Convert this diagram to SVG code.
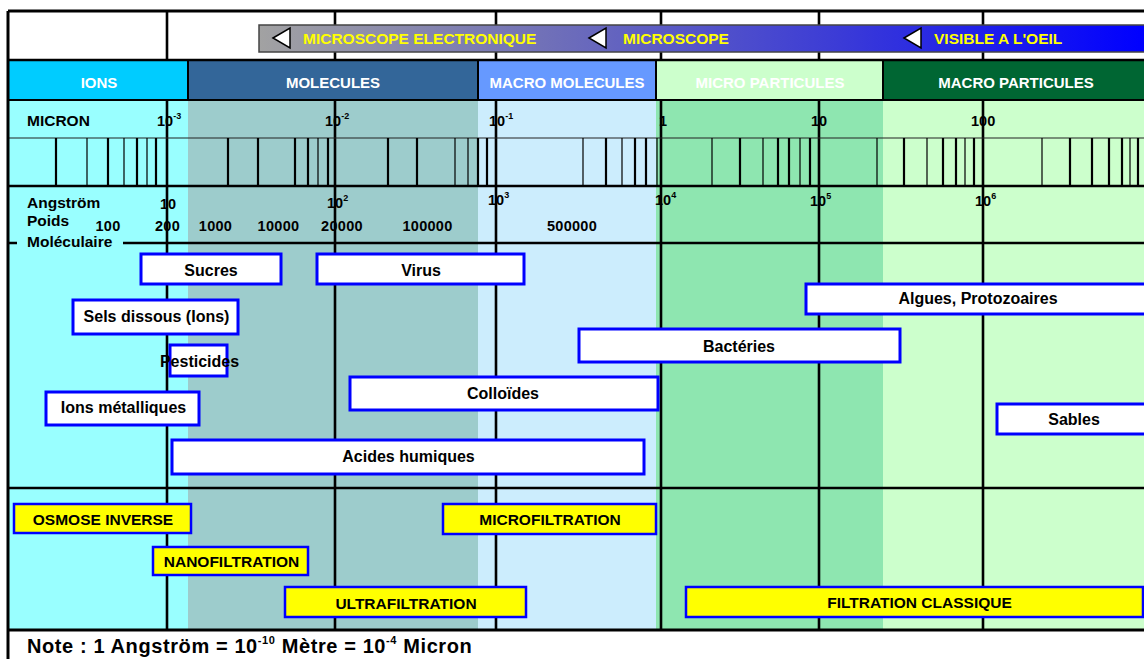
<svg xmlns="http://www.w3.org/2000/svg" width="1144" height="659" viewBox="0 0 1144 659">
<defs>
<linearGradient id="bannerGrad" x1="259" y1="0" x2="1144" y2="0" gradientUnits="userSpaceOnUse">
<stop offset="0" stop-color="#a2a2a2"/>
<stop offset="0.3" stop-color="#7474b6"/>
<stop offset="0.65" stop-color="#3c3cd6"/>
<stop offset="1" stop-color="#0000ff"/>
</linearGradient>
</defs>
<style>
text { font-family: "Liberation Sans", Arial, sans-serif; font-weight: bold; fill: #000; }
.cat { fill: #fff; font-size: 15px; text-anchor: middle; }
.ban { fill: #ffff00; font-size: 15.5px; }
.lbl { font-size: 15.5px; }
.sc { font-size: 14.5px; }
.num { font-size: 14.5px; text-anchor: middle; letter-spacing: 0.3px; }
.sup { font-size: 9px; }
.box rect { fill: #fff; stroke: #0000ff; stroke-width: 3; }
.box text { font-size: 16px; text-anchor: middle; }
.proc rect { fill: #ffff00; stroke: #0000ff; stroke-width: 2.5; }
.proc text { font-size: 15.5px; text-anchor: middle; }
.major { stroke: #000; stroke-width: 2.6; fill: none; }
.tk { stroke: #000; stroke-width: 2.2; fill: none; }
.tn { stroke: #000; stroke-width: 1.2; fill: none; }
.hl { stroke: #000; stroke-width: 2.5; fill: none; }
.tri { fill: #fff; stroke: #000; stroke-width: 1.5; }
</style>

<rect x="0" y="0" width="1144" height="659" fill="#fff"/>

<!-- column backgrounds -->
<g id="columns">
<rect x="8" y="100" width="180" height="530" fill="#99ffff"/>
<rect x="188" y="100" width="290" height="530" fill="#9dcccc"/>
<rect x="478" y="100" width="178" height="530" fill="#ccedfd"/>
<rect x="656" y="100" width="227" height="530" fill="#8ee6b0"/>
<rect x="883" y="100" width="261" height="530" fill="#ccffcc"/>
</g>

<!-- category row -->
<g id="categories">
<g id="cat-ions"><rect x="8" y="60" width="180" height="40" fill="#00ccff" stroke="#000" stroke-width="2"/><text class="cat" x="99" y="88">IONS</text></g>
<g id="cat-molecules"><rect x="188" y="60" width="290" height="40" fill="#336699" stroke="#000" stroke-width="2"/><text class="cat" x="333" y="88">MOLECULES</text></g>
<g id="cat-macromol"><rect x="478" y="60" width="178" height="40" fill="#6699ff" stroke="#000" stroke-width="2"/><text class="cat" x="567" y="88">MACRO MOLECULES</text></g>
<g id="cat-micropart"><rect x="656" y="60" width="227" height="40" fill="#ccffcc" stroke="#000" stroke-width="2"/><text class="cat" x="770" y="88">MICRO PARTICULES</text></g>
<g id="cat-macropart"><rect x="883" y="60" width="262" height="40" fill="#006633" stroke="#000" stroke-width="2"/><text class="cat" x="1016" y="88">MACRO PARTICULES</text></g>
</g>

<!-- grid lines -->
<g id="connectors">
<path class="major" d="M167 11V60M335 11V60M496 11V60M661 11V60M819 11V60M983 11V60"/>
<path class="major" d="M167 100V630M335 100V630M496 100V630M661 100V630M819 100V630M983 100V630"/>
<path d="M8 138H1144" stroke="#222" stroke-width="1.2"/>
<path class="hl" d="M8 186H1144"/>
<path class="hl" d="M8 243H17M123 243H1144"/>
<path class="hl" d="M8 488H1144"/>
<path d="M8 630H1144" stroke="#000" stroke-width="3"/>
<path class="tk" d="M56 138V186M108 138V186M137 138V186M156 138V186M228 138V186M258 138V186M295 138V186M308 138V186M328 138V186M388 138V186M417 138V186M478 138V186M487 138V186M606 138V186M635 138V186M646 138V186M740 138V186M778 138V186M789 138V186M810 138V186M904 138V186M943 138V186M956 138V186M974 138V186M1070 138V186M1092 138V186M1109 138V186M1122 138V186M1138 138V186"/>
<path class="tn" d="M87 138V186M124 138V186M147 138V186M318 138V186M455 138V186M468 138V186M583 138V186M622 138V186M657 138V186M712 138V186M763 138V186M800 138V186M877 138V186M927 138V186M965 138V186M1042 138V186M1130 138V186"/>
<!-- outer frame -->
<path d="M8 11H1144" stroke="#000" stroke-width="3"/>
<path d="M8 11V659" stroke="#000" stroke-width="3"/>
<path d="M8 60H1144" stroke="#000" stroke-width="2.5"/>
</g>

<!-- banner -->
<g id="banner">
<rect x="259" y="25" width="890" height="27" fill="url(#bannerGrad)" stroke="#444" stroke-width="1.5"/>
<polygon class="tri" points="273,38 290,28 290,48"/>
<text class="ban" x="303" y="44">MICROSCOPE ELECTRONIQUE</text>
<polygon class="tri" points="589,38 606,28 606,48"/>
<text class="ban" x="623" y="44">MICROSCOPE</text>
<polygon class="tri" points="904,38 921,28 921,48"/>
<text class="ban" x="934" y="44">VISIBLE A L'OEIL</text>
</g>

<!-- scale labels -->
<g id="scale-labels">
<text class="lbl" x="27" y="126">MICRON</text>
<text class="sc" x="157" y="126">10<tspan class="sup" dy="-7">-3</tspan></text>
<text class="sc" x="325" y="126">10<tspan class="sup" dy="-7">-2</tspan></text>
<text class="sc" x="489" y="126">10<tspan class="sup" dy="-7">-1</tspan></text>
<text class="sc" x="659" y="126">1</text>
<text class="sc" x="811" y="126">10</text>
<text class="sc" x="971" y="126">100</text>

<text class="lbl" x="27" y="208">Angström</text>
<text class="sc" x="160" y="209">10</text>
<text class="sc" x="327" y="208">10<tspan class="sup" dy="-7">2</tspan></text>
<text class="sc" x="488" y="205">10<tspan class="sup" dy="-7">3</tspan></text>
<text class="sc" x="655" y="205">10<tspan class="sup" dy="-7">4</tspan></text>
<text class="sc" x="810" y="206">10<tspan class="sup" dy="-7">5</tspan></text>
<text class="sc" x="975" y="206">10<tspan class="sup" dy="-7">6</tspan></text>

<text class="lbl" x="27" y="226">Poids</text>
<text class="lbl" x="27" y="247">Moléculaire</text>
<text class="num" x="108" y="231">100</text>
<text class="num" x="167.5" y="231">200</text>
<text class="num" x="215.5" y="231">1000</text>
<text class="num" x="278.5" y="231">10000</text>
<text class="num" x="342" y="231">20000</text>
<text class="num" x="427.5" y="231">100000</text>
<text class="num" x="572" y="231">500000</text>
</g>

<!-- substances -->
<g id="sucres" class="box"><rect x="141" y="254" width="140" height="30"/><text x="211" y="275.5">Sucres</text></g>
<g id="virus" class="box"><rect x="317" y="254" width="207" height="30"/><text x="421" y="275.5">Virus</text></g>
<g id="sels" class="box"><rect x="73" y="300" width="165" height="34"/><text x="156.5" y="322">Sels dissous (Ions)</text></g>
<g id="algues" class="box"><rect x="806" y="284" width="340" height="30"/><text x="978" y="304">Algues, Protozoaires</text></g>
<g id="bacteries" class="box"><rect x="579" y="329" width="321" height="33"/><text x="739" y="351.5">Bactéries</text></g>
<g id="pesticides" class="box"><rect x="170" y="345" width="57" height="31"/><text x="199.5" y="367">Pesticides</text></g>
<g id="colloides" class="box"><rect x="350" y="377" width="308" height="33"/><text x="503" y="399">Colloïdes</text></g>
<g id="ions-metalliques" class="box"><rect x="46" y="392" width="153" height="33"/><text x="123.5" y="413">Ions métalliques</text></g>
<g id="sables" class="box"><rect x="997" y="404" width="149" height="30"/><text x="1074" y="425">Sables</text></g>
<g id="acides" class="box"><rect x="172" y="440" width="472" height="34"/><text x="408.5" y="462">Acides humiques</text></g>

<!-- processes -->
<g id="osmose" class="proc"><rect x="14" y="504" width="177" height="29"/><text x="103" y="525">OSMOSE INVERSE</text></g>
<g id="microfiltration" class="proc"><rect x="443" y="504" width="213" height="30"/><text x="550" y="525">MICROFILTRATION</text></g>
<g id="nanofiltration" class="proc"><rect x="153" y="547" width="155" height="28"/><text x="231.5" y="567">NANOFILTRATION</text></g>
<g id="ultrafiltration" class="proc"><rect x="285" y="587" width="241" height="30"/><text x="406" y="608.5">ULTRAFILTRATION</text></g>
<g id="filtration-classique" class="proc"><rect x="686" y="587" width="457" height="30"/><text x="919.5" y="607.5">FILTRATION CLASSIQUE</text></g>

<!-- note -->
<g id="note">
<text x="27" y="653" style="font-size:20px; letter-spacing:0.6px">Note : 1 Angström = 10<tspan style="font-size:11px" dy="-9">-10</tspan><tspan dy="9"> Mètre = 10</tspan><tspan style="font-size:11px" dy="-9">-4</tspan><tspan dy="9"> Micron</tspan></text>
</g>
</svg>
